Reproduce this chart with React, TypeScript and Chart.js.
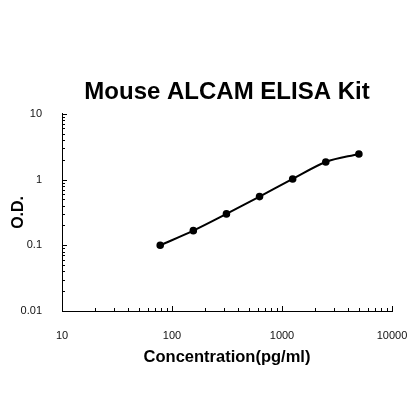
import { useEffect, useRef } from "react"
import { Chart, registerables } from "chart.js"

Chart.register(...registerables)

// standard curve points
const concentrations = [78.125, 156.25, 312.5, 625, 1250, 2500, 5000]
const odValues = [0.1, 0.167, 0.3, 0.55, 1.02, 1.85, 2.45]

const xMajorTicks = [10, 100, 1000, 10000]
const yMajorTicks = [0.01, 0.1, 1, 10]

const FONT = "Arial, 'Liberation Sans', sans-serif"

// 1..9 steps inside every decade, for the small tick marks
function decadeTicks(majors: number[]) {
  const out: number[] = []
  for (let i = 0; i < majors.length - 1; i++) {
    for (let k = 1; k < 10; k++) out.push(+(majors[i] * k).toPrecision(6))
  }
  out.push(majors[majors.length - 1])
  return out
}

// tick marks pointing into the plot, like the original
const inwardTicks = {
  id: "inwardTicks",
  afterDraw(chart: Chart) {
    const ctx = chart.ctx
    const x = chart.scales.x
    const y = chart.scales.y
    ctx.save()
    ctx.strokeStyle = "#000"
    ctx.lineWidth = 1
    ctx.beginPath()
    x.ticks.forEach((t) => {
      const px = Math.round(x.getPixelForValue(t.value)) + 0.5
      const len = xMajorTicks.includes(t.value) ? 5 : 3
      ctx.moveTo(px, x.top)
      ctx.lineTo(px, x.top - len)
    })
    y.ticks.forEach((t) => {
      const py = Math.round(y.getPixelForValue(t.value)) + 0.5
      const len = yMajorTicks.includes(t.value) ? 5 : 3
      ctx.moveTo(y.right, py)
      ctx.lineTo(y.right + len, py)
    })
    ctx.stroke()
    ctx.restore()
  },
}

export default function App() {
  const canvasRef = useRef<HTMLCanvasElement>(null)
  const chartRef = useRef<Chart | null>(null)

  useEffect(() => {
    if (!canvasRef.current) return
    if (chartRef.current) chartRef.current.destroy()

    chartRef.current = new Chart(canvasRef.current, {
      type: "line",
      data: {
        datasets: [
          {
            data: concentrations.map((c, i) => ({ x: c, y: odValues[i] })),
            borderColor: "#000",
            backgroundColor: "#000",
            borderWidth: 2,
            pointRadius: 2.8,
            pointBackgroundColor: "#000",
            pointBorderColor: "#000",
            cubicInterpolationMode: "monotone",
            fill: false,
          },
        ],
      },
      options: {
        responsive: false,
        animation: false,
        layout: { padding: { left: 0, right: 28, top: 0, bottom: 53 } },
        plugins: {
          legend: { display: false },
          tooltip: { enabled: false },
          title: {
            display: true,
            fullSize: false,
            text: "Mouse ALCAM ELISA Kit",
            color: "#000",
            font: { family: FONT, size: 24, weight: "bold" },
            padding: { top: 78, bottom: 7 },
          },
        },
        scales: {
          x: {
            type: "logarithmic",
            min: 10,
            max: 10000,
            grid: { display: false },
            border: { display: true, color: "#000", width: 1 },
            afterBuildTicks: (scale) => {
              scale.ticks = decadeTicks(xMajorTicks).map((v) => ({ value: v }))
            },
            afterFit: (scale) => {
              scale.height = 56
            },
            ticks: {
              autoSkip: false,
              maxRotation: 0,
              padding: 10,
              color: "#111",
              font: { family: FONT, size: 11 },
              callback: (v) => (xMajorTicks.includes(Number(v)) ? String(v) : ""),
            },
            title: {
              display: true,
              text: "Concentration(pg/ml)",
              color: "#000",
              font: { family: FONT, size: 16.5, weight: "bold" },
              padding: { top: 0, bottom: 0 },
            },
          },
          y: {
            type: "logarithmic",
            min: 0.01,
            max: 10,
            grid: { display: false },
            border: { display: true, color: "#000", width: 1 },
            afterBuildTicks: (scale) => {
              scale.ticks = decadeTicks(yMajorTicks).map((v) => ({ value: v }))
            },
            afterFit: (scale) => {
              scale.width = 62
            },
            ticks: {
              autoSkip: false,
              padding: 12,
              color: "#111",
              font: { family: FONT, size: 11 },
              callback: (v) => (yMajorTicks.includes(Number(v)) ? String(v) : ""),
            },
            title: {
              display: true,
              text: "O.D.",
              color: "#000",
              font: { family: FONT, size: 16, weight: "bold" },
              padding: { top: 9, bottom: 0 },
            },
          },
        },
      },
      plugins: [inwardTicks],
    })

    return () => {
      if (chartRef.current) {
        chartRef.current.destroy()
        chartRef.current = null
      }
    }
  }, [])

  return (
    <div style={{ position: "absolute", left: 0, top: 0, width: 420, height: 420, background: "#fff" }}>
      <canvas ref={canvasRef} width={420} height={420} />
    </div>
  )
}
